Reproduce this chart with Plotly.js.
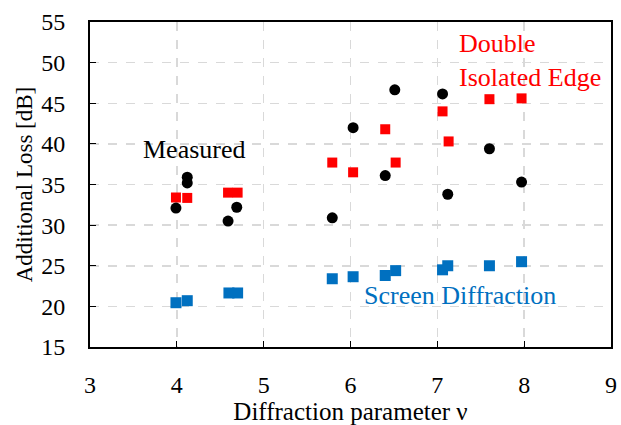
<!DOCTYPE html>
<html>
<head>
<meta charset="utf-8">
<script src="https://cdn.plot.ly/plotly-3.0.1.min.js"></script>
<style>
html,body{margin:0;padding:0;background:#fff;}
#chart{width:621px;height:425px;}
#chart text{font-family:"Liberation Serif","Times New Roman",serif !important;}
</style>
</head>
<body>
<div id="chart"></div>
<script>
const measuredX = [3.99, 4.12, 4.12, 4.59, 4.69, 5.79, 6.03, 6.40, 6.51, 7.06, 7.12, 7.60, 7.97];
const measuredY = [32.1, 35.9, 35.2, 30.5, 32.2, 30.9, 42.0, 36.1, 46.65, 46.15, 33.8, 39.4, 35.3];

const doubleX = [3.99, 4.12, 4.59, 4.70, 5.79, 6.03, 6.40, 6.52, 7.06, 7.13, 7.60, 7.97];
const doubleY = [33.4, 33.35, 34.0, 34.0, 37.7, 36.5, 41.8, 37.7, 44.0, 40.3, 45.5, 45.6];

const screenX = [3.99, 4.12, 4.60, 4.70, 5.79, 6.03, 6.40, 6.52, 7.06, 7.12, 7.60, 7.97];
const screenY = [20.45, 20.7, 21.65, 21.65, 23.4, 23.65, 23.8, 24.4, 24.5, 25.0, 25.0, 25.5];

const xTicks = [3, 4, 5, 6, 7, 8, 9];
const yTicks = [15, 20, 25, 30, 35, 40, 45, 50, 55];

const FONT = 'Liberation Serif';

const traces = [
  {x: doubleX, y: doubleY, type: 'scatter', mode: 'markers', name: 'Double Isolated Edge',
   marker: {symbol: 'square', size: 10, color: '#ff0000'}},
  {x: screenX, y: screenY, type: 'scatter', mode: 'markers', name: 'Screen Diffraction',
   marker: {symbol: 'square', size: 11, color: '#0070c0'}},
  {x: measuredX, y: measuredY, type: 'scatter', mode: 'markers', name: 'Measured',
   marker: {symbol: 'circle', size: 11, color: '#000000'}}
];

const layout = {
  width: 621, height: 425,
  margin: {l: 90, r: 10, t: 22, b: 78},
  paper_bgcolor: '#ffffff', plot_bgcolor: '#ffffff',
  showlegend: false,
  font: {family: FONT, size: 22, color: '#000'},
  xaxis: {
    range: [3, 9], tickvals: xTicks, ticktext: xTicks.map(String),
    showgrid: true, gridcolor: '#d9d9d9', griddash: 'dash', gridwidth: 1.5,
    showline: true, mirror: true, linecolor: '#000', linewidth: 2,
    ticks: 'inside', ticklen: 6, tickcolor: '#000', tickwidth: 1,
    ticklabelstandoff: 15, zeroline: false,
    tickfont: {family: FONT, size: 24, color: '#000'},
    title: {text: 'Diffraction parameter ν', font: {family: FONT, size: 25, color: '#000'}, standoff: 4}
  },
  yaxis: {
    range: [15, 55], tickvals: yTicks, ticktext: yTicks.map(String),
    showgrid: true, gridcolor: '#d9d9d9', griddash: 'dash', gridwidth: 1.5,
    showline: true, mirror: true, linecolor: '#000', linewidth: 2,
    ticks: 'inside', ticklen: 6, tickcolor: '#000', tickwidth: 1,
    ticklabelstandoff: 18, zeroline: false,
    tickfont: {family: FONT, size: 24, color: '#000'},
    title: {text: 'Additional Loss [dB]', font: {family: FONT, size: 23, color: '#000'}, standoff: 2}
  },
  annotations: [
    {x: 3.59, y: 39.3, xref: 'x', yref: 'y', text: 'Measured', showarrow: false,
     xanchor: 'left', yanchor: 'middle', font: {family: FONT, size: 26, color: '#000'}},
    {x: 7.23, y: 50.3, xref: 'x', yref: 'y', text: 'Double<br>Isolated Edge', showarrow: false,
     align: 'left', xanchor: 'left', yanchor: 'middle', font: {family: FONT, size: 26, color: '#ff0000'}},
    {x: 6.13, y: 21.3, xref: 'x', yref: 'y', text: 'Screen Diffraction', showarrow: false,
     xanchor: 'left', yanchor: 'middle', font: {family: FONT, size: 26, color: '#0070c0'}}
  ]
};

Plotly.newPlot('chart', traces, layout, {staticPlot: true, displayModeBar: false});
</script>
</body>
</html>
